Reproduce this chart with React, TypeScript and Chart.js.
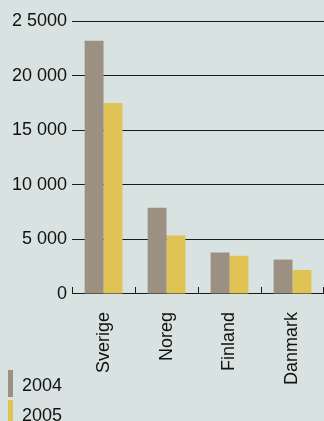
import React, { useEffect, useRef } from "react";
import { Chart, registerables } from "chart.js";

Chart.register(...registerables);

const categories = ["Sverige", "Noreg", "Finland", "Danmark"];
const values2004 = [23200, 7900, 3800, 3150];
const values2005 = [17500, 5350, 3500, 2200];
const seriesNames = ["2004", "2005"];
const tickValues = [0, 5000, 10000, 15000, 20000, 25000];
const tickLabels = ["0", "5 000", "10 000", "15 000", "20 000", "2 5000"];

const BG = "#d8e3e1";
const COLORS = ["#9c9083", "#dfc355"];
const FONT = "'Liberation Sans', Arial, Helvetica, sans-serif";

const catTicks = {
  id: "catTicks",
  afterDatasetsDraw(chart: any) {
    const x = chart.scales.x;
    const ctx = chart.ctx;
    const bottom = chart.chartArea.bottom;
    const n = categories.length;
    const w = (x.right - x.left) / n;
    ctx.save();
    ctx.strokeStyle = "#1a1a1a";
    ctx.lineWidth = 1;
    for (let i = 0; i <= n; i++) {
      const px = i === n ? x.right - 0.5 : Math.round(x.getPixelForValue(i) - w / 2) + 0.5;
      ctx.beginPath();
      ctx.moveTo(px, bottom);
      ctx.lineTo(px, bottom - 7);
      ctx.stroke();
    }
    ctx.restore();
  },
};

export default function App() {
  const ref = useRef<HTMLCanvasElement>(null);
  useEffect(() => {
    document.body.style.margin = "0";
    document.body.style.background = BG;
    const chart = new Chart(ref.current!, {
      type: "bar",
      data: {
        labels: categories,
        datasets: [
          { label: seriesNames[0], data: values2004, backgroundColor: COLORS[0], categoryPercentage: 0.6, barPercentage: 1 },
          { label: seriesNames[1], data: values2005, backgroundColor: COLORS[1], categoryPercentage: 0.6, barPercentage: 1 },
        ],
      },
      plugins: [catTicks],
      options: {
        animation: false,
        responsive: false,
        maintainAspectRatio: false,
        layout: { padding: { top: 21, right: 0, bottom: 18, left: 7 } },
        plugins: { legend: { display: false }, tooltip: { enabled: false } },
        scales: {
          x: {
            afterFit: (s: any) => {
              s.paddingLeft = 0;
              s.paddingRight = 0;
            },
            grid: { display: false, drawTicks: false },
            border: { display: true, color: "#1a1a1a", width: 1 },
            ticks: {
              color: "#111",
              font: { family: FONT, size: 18 },
              minRotation: 90,
              maxRotation: 90,
              padding: 18,
            },
          },
          y: {
            min: 0,
            max: 25000,
            afterBuildTicks: (axis: any) => {
              axis.ticks = tickValues.map((v) => ({ value: v }));
            },
            grid: { color: "#1a1a1a", lineWidth: 1, drawTicks: false },
            border: { display: false },
            ticks: {
              color: "#111",
              font: { family: FONT, size: 18 },
              padding: 5,
              callback: (v: any) => tickLabels[tickValues.indexOf(Number(v))] ?? "",
            },
          },
        },
      },
    });
    return () => chart.destroy();
  }, []);

  const sw = (i: number, top: number) => (
    <div key={i}>
      <div style={{ position: "absolute", left: 8, top, width: 5, height: 27, background: COLORS[i] }} />
      <div
        style={{
          position: "absolute",
          left: 22,
          top: top + 5,
          fontFamily: FONT,
          fontSize: 18,
          lineHeight: "20px",
          color: "#111",
        }}
      >
        {seriesNames[i]}
      </div>
    </div>
  );

  return (
    <div style={{ position: "absolute", left: 0, top: 0, width: 324, height: 421, background: BG, overflow: "hidden" }}>
      <canvas ref={ref} width={324} height={421} style={{ display: "block" }} />
      {sw(0, 370)}
      {sw(1, 400)}
    </div>
  );
}
